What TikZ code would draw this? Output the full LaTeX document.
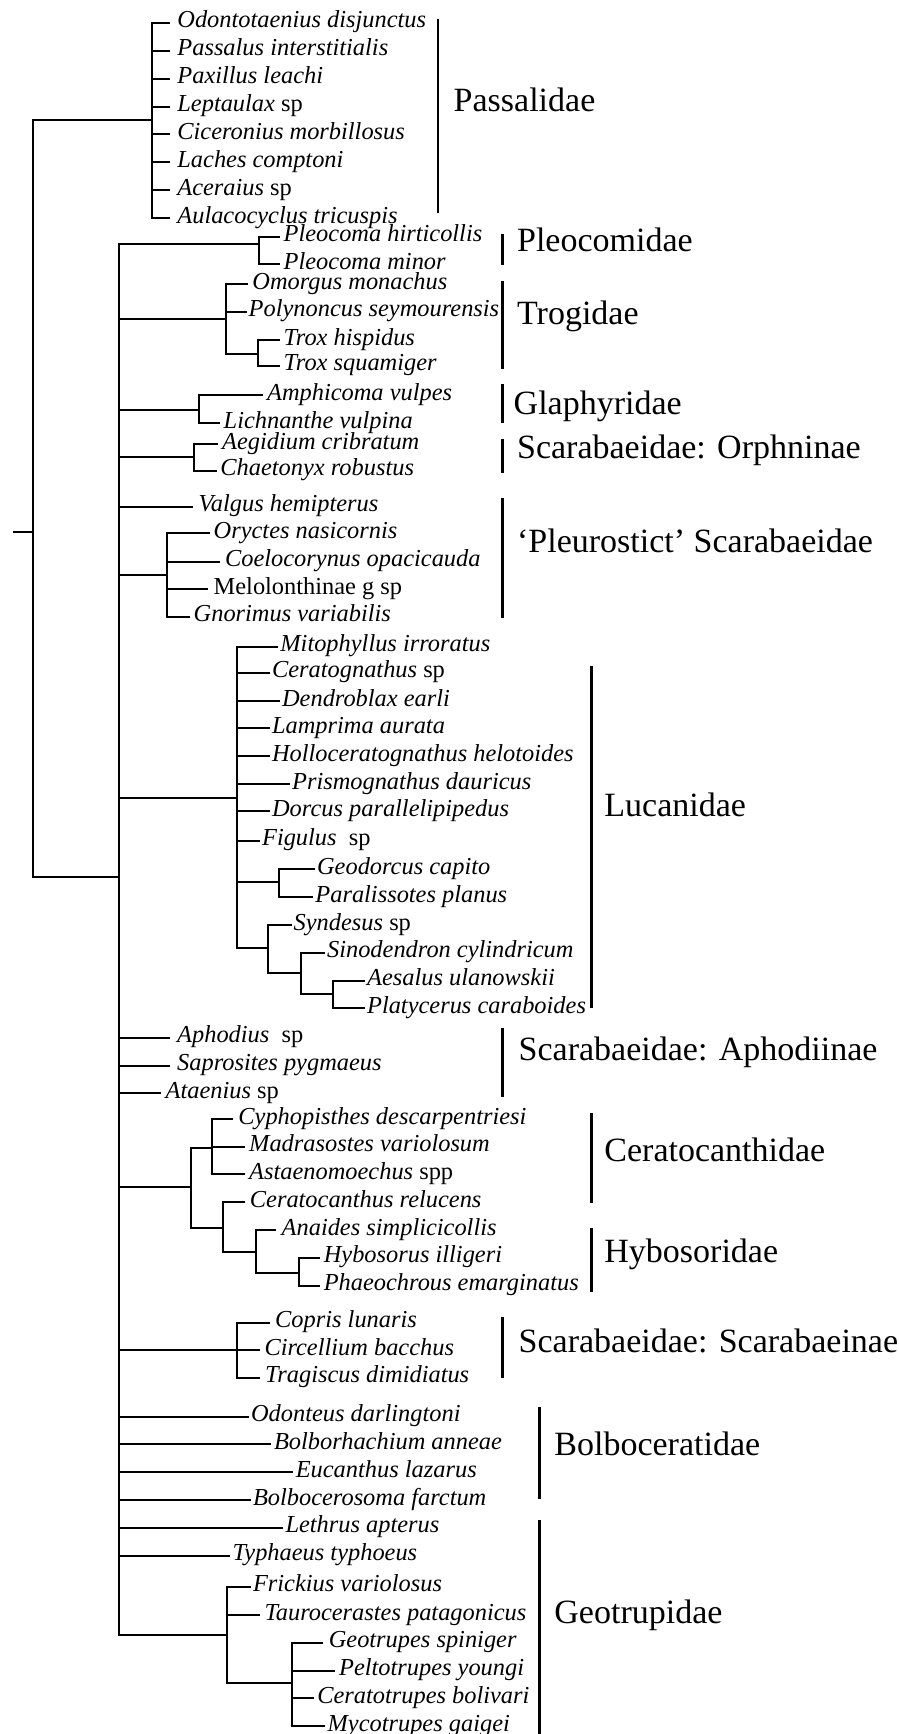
\documentclass[tikz,border=0pt]{standalone}
\usepackage{fontspec}
\setmainfont{Liberation Serif}
\tikzset{
 br/.style={line width=1pt},
 bar/.style={line width=1.4pt},
 leafstyle/.style={anchor=base west, inner sep=0pt, font=\fontsize{12.2}{14}\selectfont\itshape},
 fam/.style={anchor=base west, inner sep=0pt, font=\fontsize{17}{20}\selectfont},
}
\newcommand\mkleaf[6]{\coordinate (e#2) at (#3,#4); \node[leafstyle] (#2) at (#5,{#4+5}) {#6}; \draw[br] (#1) |- (e#2);}
\newcommand\mkclade[4]{\coordinate (#2) at (#3,#4); \draw[br] (#1) |- (#2);}
\newcommand\mkfam[7]{\coordinate (#1t) at (#2,#3); \coordinate (#1b) at (#2,#4); \draw[bar] (#1t) -- (#1b); \node[fam] (#1) at (#5,#6) {#7};}
\begin{document}
\begin{tikzpicture}[x=0.5pt,y=-0.5pt]
\fill[white] (0,0) rectangle (899,1734);
\useasboundingbox (0,0) rectangle (899,1734);
% root
\coordinate (R0) at (12.7,531.7);
\coordinate (R) at (33.3,531.7);
\draw[br] (R0) -- (R);
% Passalidae
\mkclade{R}{P}{151.7}{120}
\mkleaf{P}{odo}{170}{22.7}{177}{Odontotaenius disjunctus}
\mkleaf{P}{pas}{170}{50.7}{177}{Passalus interstitialis}
\mkleaf{P}{pax}{170}{79}{177}{Paxillus leachi}
\mkleaf{P}{lep}{170}{106.7}{177}{Leptaulax {\upshape sp}}
\mkleaf{P}{cic}{170}{134.3}{177}{Ciceronius morbillosus}
\mkleaf{P}{lac}{170}{162.3}{177}{Laches comptoni}
\mkleaf{P}{ace}{170}{190}{177}{Aceraius {\upshape sp}}
\mkleaf{P}{aul}{170}{218.3}{177}{Aulacocyclus tricuspis}
% main clade
\mkclade{R}{M}{119}{877}
% Pleocomidae
\mkclade{M}{PC}{259.3}{244}
\mkleaf{PC}{phi}{280}{236.7}{283.3}{Pleocoma hirticollis}
\mkleaf{PC}{pmi}{280}{264}{283.3}{Pleocoma minor}
% Trogidae
\mkclade{M}{T}{226}{319}
\mkleaf{T}{omo}{248.3}{284}{252}{Omorgus monachus}
\mkleaf{T}{pol}{246.7}{311.7}{248.3}{Polynoncus seymourensis}
\mkclade{T}{TX}{257.7}{354}
\mkleaf{TX}{thi}{280}{340}{283.3}{Trox hispidus}
\mkleaf{TX}{tsq}{280}{365.7}{283.3}{Trox squamiger}
% Glaphyridae
\mkclade{M}{G}{199}{410}
\mkleaf{G}{amp}{263.3}{395}{266.7}{Amphicoma vulpes}
\mkleaf{G}{lic}{220}{423.3}{223.3}{Lichnanthe vulpina}
% Orphninae
\mkclade{M}{O}{194.3}{457.3}
\mkleaf{O}{aeg}{218}{444}{221.7}{Aegidium cribratum}
\mkleaf{O}{cha}{216.7}{470.7}{220}{Chaetonyx robustus}
% Pleurostict
\mkleaf{M}{val}{193.3}{506.7}{198.3}{Valgus hemipterus}
\mkclade{M}{PL}{166.7}{575}
\mkleaf{PL}{ory}{210}{533.3}{213.3}{Oryctes nasicornis}
\mkleaf{PL}{coe}{220}{561.7}{224.7}{Coelocorynus opacicauda}
\mkleaf{PL}{mel}{208.3}{589.3}{213.3}{{\upshape Melolonthinae g sp}}
\mkleaf{PL}{gno}{190}{616.7}{193.3}{Gnorimus variabilis}
% Lucanidae
\mkclade{M}{L}{236.7}{797.7}
\mkleaf{L}{mit}{278}{646.7}{280}{Mitophyllus irroratus}
\mkleaf{L}{cer}{270}{672.7}{271.7}{Ceratognathus {\upshape sp}}
\mkleaf{L}{den}{280}{701}{281.7}{Dendroblax earli}
\mkleaf{L}{lam}{270}{728.3}{271.7}{Lamprima aurata}
\mkleaf{L}{hol}{270}{756}{271.7}{Holloceratognathus helotoides}
\mkleaf{L}{pri}{290}{784.3}{291.7}{Prismognathus dauricus}
\mkleaf{L}{dor}{270}{811}{271.7}{Dorcus parallelipipedus}
\mkleaf{L}{fig}{260}{840.7}{261.7}{Figulus\ \ {\upshape sp}}
\mkclade{L}{GD}{279}{882.3}
\mkleaf{GD}{geo}{315}{869.3}{316.7}{Geodorcus capito}
\mkleaf{GD}{par}{313.3}{897.3}{315}{Paralissotes planus}
\mkclade{L}{SY}{268.3}{948.3}
\mkleaf{SY}{syn}{291.7}{925}{293.3}{Syndesus {\upshape sp}}
\mkclade{SY}{SI}{301}{973.3}
\mkleaf{SI}{sin}{325}{952.7}{326.7}{Sinodendron cylindricum}
\mkclade{SI}{AP}{332.7}{994.4}
\mkleaf{AP}{aes}{365}{980.5}{366.7}{Aesalus ulanowskii}
\mkleaf{AP}{pla}{365}{1008.3}{366.7}{Platycerus caraboides}
% Aphodiinae
\mkleaf{M}{aph}{170.3}{1037.7}{176.8}{Aphodius\ \ {\upshape sp}}
\mkleaf{M}{sap}{170.3}{1065.7}{176.8}{Saprosites pygmaeus}
\mkleaf{M}{ata}{160.7}{1093.3}{165.3}{Ataenius {\upshape sp}}
% Ceratocanthidae + Hybosoridae
\mkclade{M}{CH}{191.3}{1187.3}
\mkclade{CH}{CE}{212.4}{1147.7}
\mkleaf{CE}{cyp}{233.4}{1119}{238}{Cyphopisthes descarpentriesi}
\mkleaf{CE}{mad}{245}{1146.7}{248.8}{Madrasostes variolosum}
\mkleaf{CE}{ast}{245}{1174.3}{248.8}{Astaenomoechus {\upshape spp}}
\mkclade{CH}{HY}{223.1}{1227.7}
\mkleaf{HY}{cth}{245}{1202.3}{249.5}{Ceratocanthus relucens}
\mkclade{HY}{AN}{255.6}{1251.7}
\mkleaf{AN}{ana}{276.3}{1230}{281.3}{Anaides simplicicollis}
\mkclade{AN}{HP}{298.5}{1272.7}
\mkleaf{HP}{hyb}{319.6}{1257.7}{323.4}{Hybosorus illigeri}
\mkleaf{HP}{pha}{319.6}{1285.7}{323.4}{Phaeochrous emarginatus}
% Scarabaeinae
\mkclade{M}{SC}{237.3}{1350}
\mkleaf{SC}{cop}{269.8}{1322.7}{274.8}{Copris lunaris}
\mkleaf{SC}{cir}{260.2}{1350}{264.1}{Circellium bacchus}
\mkleaf{SC}{tra}{260.2}{1377.7}{264.8}{Tragiscus dimidiatus}
% Bolboceratidae
\mkleaf{M}{odn}{248.8}{1416.7}{250.7}{Odonteus darlingtoni}
\mkleaf{M}{bol}{271}{1444.3}{273.6}{Bolborhachium anneae}
\mkleaf{M}{euc}{292.8}{1472.3}{295.4}{Eucanthus lazarus}
\mkleaf{M}{bfa}{250.7}{1500}{252.6}{Bolbocerosoma farctum}
% Geotrupidae
\mkleaf{M}{let}{283.2}{1527.7}{285.1}{Lethrus apterus}
\mkleaf{M}{typ}{229.6}{1555.7}{232.3}{Typhaeus typhoeus}
\mkclade{M}{GE}{226.9}{1635}
\mkleaf{GE}{fri}{250.7}{1586.7}{252.6}{Frickius variolosus}
\mkleaf{GE}{tau}{259.5}{1615}{264.1}{Taurocerastes patagonicus}
\mkclade{GE}{GS}{291.6}{1683.3}
\mkleaf{GS}{gsp}{323.4}{1642.7}{328.4}{Geotrupes spiniger}
\mkleaf{GS}{pel}{334.9}{1670.7}{338.7}{Peltotrupes youngi}
\mkleaf{GS}{ctr}{313.8}{1698.3}{316.9}{Ceratotrupes bolivari}
\mkleaf{GS}{myc}{325.3}{1726}{327.2}{Mycotrupes gaigei}
% family bars and labels
\mkfam{passal}{438}{19.5}{213}{453.3}{112}{Passalidae}
\mkfam{pleoc}{502.7}{234}{264.5}{516.7}{251.5}{Pleocomidae}
\mkfam{trog}{502.7}{281}{368.6}{516.7}{324.4}{Trogidae}
\mkfam{glaph}{502.3}{383.8}{422.8}{513.3}{414}{Glaphyridae}
\mkfam{orph}{502.7}{438.9}{472.7}{516.7}{458.8}{Scarabaeidae: Orphninae}
\mkfam{pleur}{502.7}{497.8}{618}{516.7}{552.9}{‘Pleurostict’ Scarabaeidae}
\mkfam{lucan}{591.7}{665.7}{1008.3}{604}{816.7}{Lucanidae}
\mkfam{aphod}{502.7}{1028.3}{1096.5}{518.3}{1060}{Scarabaeidae: Aphodiinae}
\mkfam{cerat}{591.7}{1112.5}{1202.7}{604}{1161.9}{Ceratocanthidae}
\mkfam{hybos}{591.7}{1227.7}{1292}{604}{1262}{Hybosoridae}
\mkfam{scara}{502.7}{1317}{1378}{518.3}{1352.3}{Scarabaeidae: Scarabaeinae}
\mkfam{bolbo}{539.3}{1407.4}{1499.4}{554}{1455.5}{Bolboceratidae}
\mkfam{geotr}{539.3}{1520}{1734}{554}{1623.2}{Geotrupidae}
\end{tikzpicture}
\end{document}
